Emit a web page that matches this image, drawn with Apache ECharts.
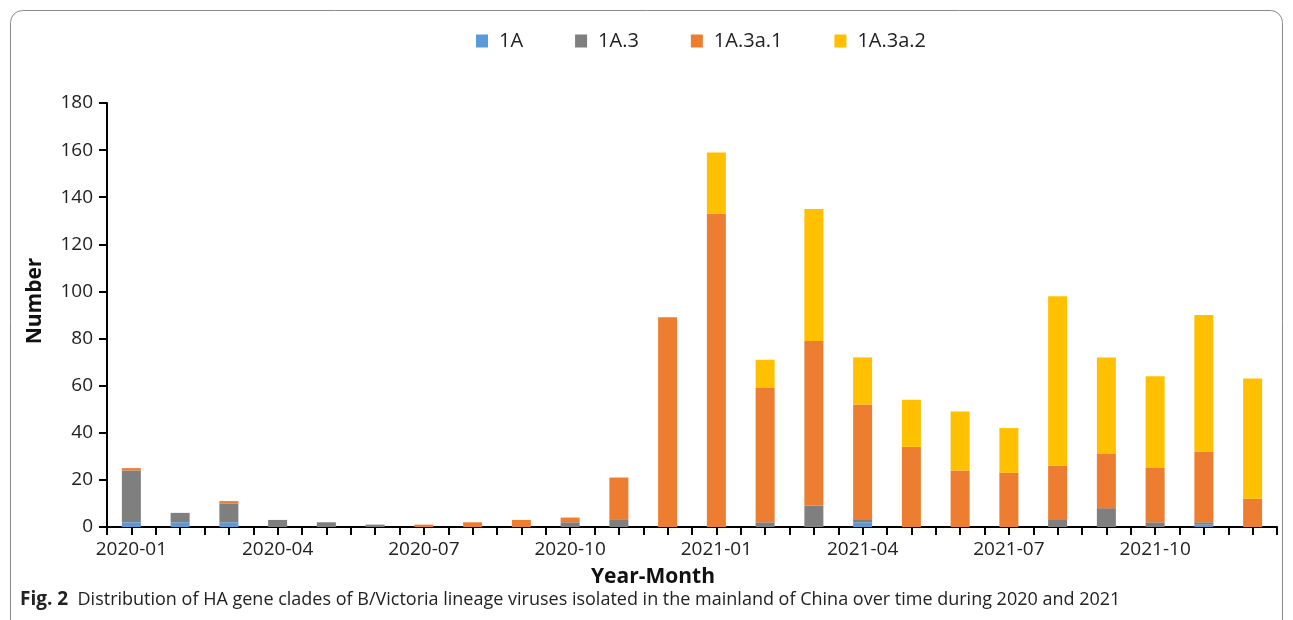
<!DOCTYPE html>
<html>
<head>
<meta charset="utf-8">
<script src="https://cdn.jsdelivr.net/npm/echarts@6/dist/echarts.min.js"></script>
<style>
  html, body { margin: 0; padding: 0; background: #fff; }
  #chart { width: 1293px; height: 620px; }
</style>
</head>
<body>
<div id="chart"></div>
<script>
// Months sampled, 2020-01 .. 2021-12
const months = [
  '2020-01','2020-02','2020-03','2020-04','2020-05','2020-06',
  '2020-07','2020-08','2020-09','2020-10','2020-11','2020-12',
  '2021-01','2021-02','2021-03','2021-04','2021-05','2021-06',
  '2021-07','2021-08','2021-09','2021-10','2021-11','2021-12'
];

// Number of isolates per HA clade and month
const clade1A      = [2, 2, 2, 0, 0, 0, 0, 0, 0, 0, 0, 0, 0, 0, 0, 2, 0, 0, 0, 0, 0, 0, 1, 0];
const clade1A3     = [22, 4, 8, 3, 2, 1, 0, 0, 0, 2, 3, 0, 0, 2, 9, 1, 0, 0, 0, 3, 8, 2, 1, 0];
const clade1A3a1   = [1, 0, 1, 0, 0, 0, 1, 2, 3, 2, 18, 89, 133, 57, 70, 49, 34, 24, 23, 23, 23, 23, 30, 12];
const clade1A3a2   = [0, 0, 0, 0, 0, 0, 0, 0, 0, 0, 0, 0, 26, 12, 56, 20, 20, 25, 19, 72, 41, 39, 58, 51];

const seriesNames  = ['1A', '1A.3', '1A.3a.1', '1A.3a.2'];
const yTicks       = [0, 20, 40, 60, 80, 100, 120, 140, 160, 180];

const colors = ['#5B9BD5', '#7F7F7F', '#ED7D31', '#FFC000'];
const FONT = '"Open Sans", "Noto Sans", sans-serif';

const chart = echarts.init(document.getElementById('chart'), null, { renderer: 'canvas' });

function bar(name, data, color) {
  return {
    name: name,
    type: 'bar',
    stack: 'total',
    data: data,
    barWidth: 19,
    itemStyle: { color: color },
    emphasis: { disabled: true }
  };
}

chart.setOption({
  animation: false,
  backgroundColor: '#fff',
  color: colors,
  textStyle: { fontFamily: FONT },
  legend: {
    top: 26,
    left: 471,
    itemWidth: 12,
    itemHeight: 13,
    itemGap: 52,
    icon: 'rect',
    textStyle: { fontSize: 20, color: '#222', fontFamily: FONT, padding: [0, 0, 0, 6] },
    data: seriesNames
  },
  grid: { left: 107, right: 16, top: 103, bottom: 93, containLabel: false },
  xAxis: [
    {
      type: 'category',
      data: months,
      boundaryGap: true,
      axisLine: { lineStyle: { color: '#000', width: 2 } },
      axisTick: { show: true, interval: 0, length: 8, alignWithLabel: false,
                  lineStyle: { color: '#000', width: 2 } },
      axisLabel: { interval: 2, fontSize: 19, color: '#222', margin: 13, fontFamily: FONT }
    },
    {
      // centre ticks under each month
      type: 'category',
      data: months,
      position: 'bottom',
      boundaryGap: true,
      axisLine: { show: false },
      axisTick: { show: true, interval: 0, length: 8, alignWithLabel: true,
                  lineStyle: { color: '#000', width: 2 } },
      axisLabel: { show: false }
    }
  ],
  yAxis: {
    type: 'value',
    min: yTicks[0],
    max: yTicks[yTicks.length - 1],
    interval: yTicks[1] - yTicks[0],
    splitLine: { show: false },
    axisLine: { show: true, lineStyle: { color: '#000', width: 2 } },
    axisTick: { show: true, length: 8, lineStyle: { color: '#000', width: 2 } },
    axisLabel: { fontSize: 19, color: '#222', margin: 14, fontFamily: FONT }
  },
  series: [
    bar(seriesNames[0], clade1A, colors[0]),
    bar(seriesNames[1], clade1A3, colors[1]),
    bar(seriesNames[2], clade1A3a1, colors[2]),
    bar(seriesNames[3], clade1A3a2, colors[3])
  ],
  graphic: [
    {
      type: 'rect',
      silent: true,
      shape: { x: 10.5, y: 10.5, width: 1272, height: 700, r: 12 },
      style: { fill: 'none', stroke: '#8a8a8a', lineWidth: 1 }
    },
    {
      type: 'text',
      x: 35, y: 301,
      rotation: Math.PI / 2,
      style: { text: 'Number', font: 'bold 21px ' + FONT, fill: '#111',
               textAlign: 'center', textVerticalAlign: 'middle' }
    },
    {
      type: 'text',
      x: 653, y: 577,
      style: { text: 'Year-Month', font: 'bold 21px ' + FONT, fill: '#111',
               textAlign: 'center', textVerticalAlign: 'middle' }
    },
    {
      type: 'text',
      x: 20, y: 600,
      style: {
        text: '{b|Fig. 2}  Distribution of HA gene clades of B/Victoria lineage viruses isolated in the mainland of China over time during 2020 and 2021',
        font: '18px ' + FONT, fill: '#222', textVerticalAlign: 'middle',
        rich: { b: { font: 'bold 19px ' + FONT, fill: '#222' } }
      }
    }
  ]
});
</script>
</body>
</html>
